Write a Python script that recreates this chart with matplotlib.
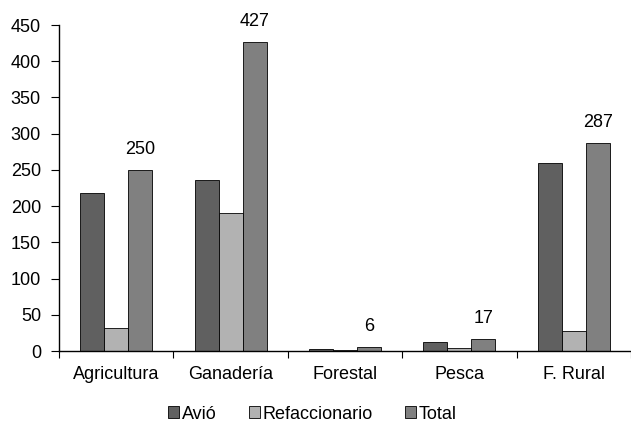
import matplotlib
matplotlib.use('Agg')
import matplotlib.pyplot as plt
import numpy as np

plt.rcParams['font.family'] = ['Liberation Sans', 'DejaVu Sans']

categorias = ["Agricultura", "Ganadería", "Forestal", "Pesca", "F. Rural"]
avio = [218, 236, 2.5, 13, 259]
refaccionario = [32, 191, 2, 4, 28]
total = [250, 427, 6, 17, 287]

fig = plt.figure(figsize=(6.31, 4.24), dpi=100)
ax = fig.add_axes([0.0935, 0.172, 0.9065, 0.769])

x = np.arange(len(categorias)) + 0.5
w = 0.21
ax.bar(x - w, avio, w, color='#606060', edgecolor='black', linewidth=0.6, label='Avió')
ax.bar(x, refaccionario, w, color='#b2b2b2', edgecolor='black', linewidth=0.6, label='Refaccionario')
ax.bar(x + w, total, w, color='#808080', edgecolor='black', linewidth=0.6, label='Total')

# etiquetas de total
for xi, t in zip(x, total):
    ax.annotate(str(t), (xi + w, t), xytext=(0, 11.5), textcoords='offset points',
                ha='center', va='baseline', fontsize=13)

ax.set_xlim(0, 5)
ax.set_ylim(0, 450)
ax.set_yticks(range(0, 451, 50))
ax.set_xticks(np.arange(0, 6))
ax.set_xticklabels([])
ax.set_xticks(x, minor=True)
ax.set_xticklabels(categorias, minor=True)
ax.tick_params(axis='x', which='minor', length=0, pad=11, labelsize=13)
ax.tick_params(axis='x', which='major', length=5, direction='out')
ax.tick_params(axis='y', length=6, direction='out', labelsize=13, pad=7)
for s in ['top', 'right']:
    ax.spines[s].set_visible(False)
ax.spines['left'].set_linewidth(1)
ax.spines['bottom'].set_linewidth(1)

fig.legend(loc='lower center', bbox_to_anchor=(0.495, -0.035), ncol=3, frameon=False,
           fontsize=13, handlelength=0.6, handleheight=0.6, handletextpad=0.15, columnspacing=1.8)

fig.savefig('out.png', dpi=100)
